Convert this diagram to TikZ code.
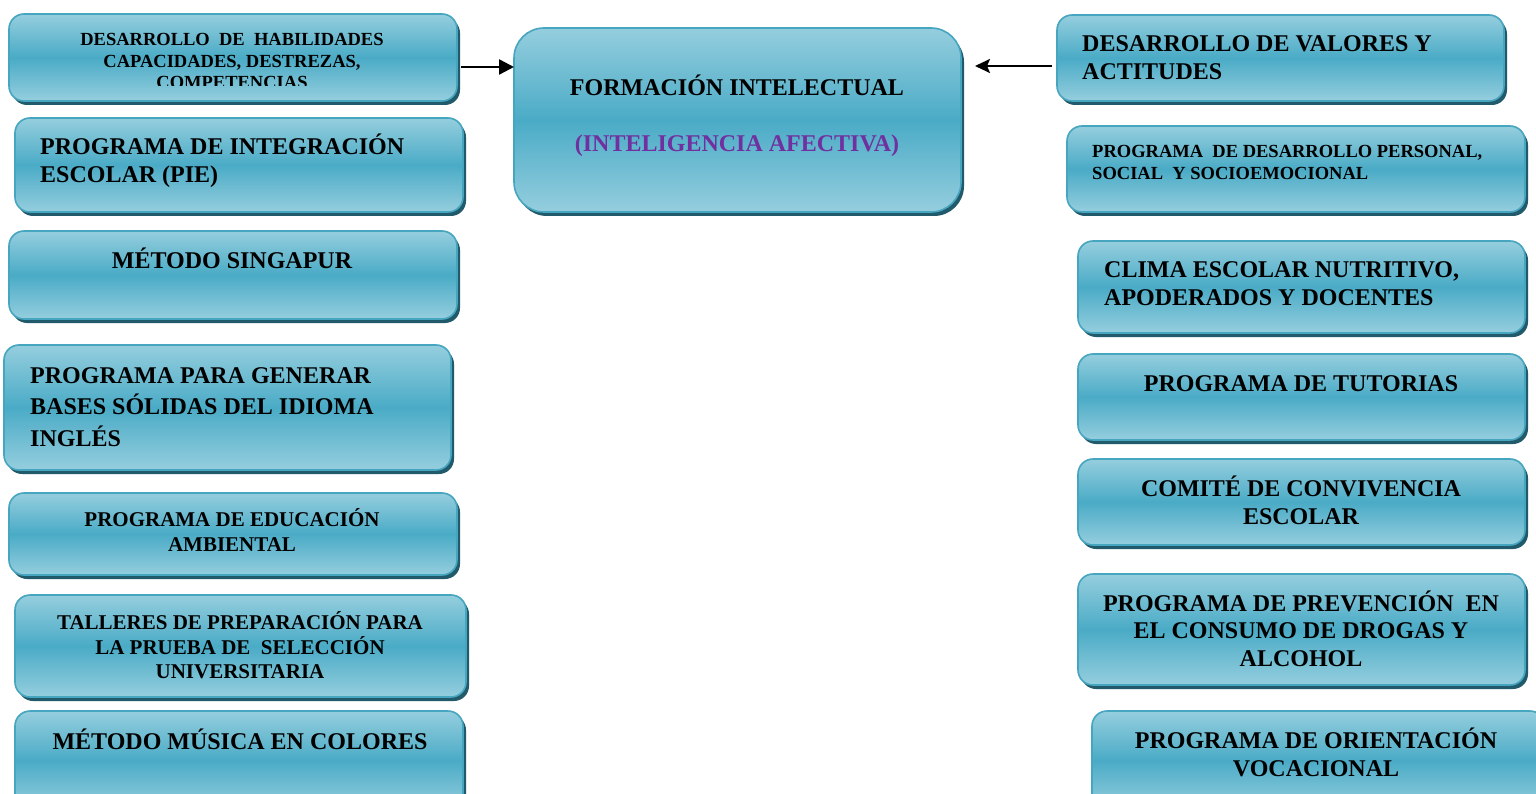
\documentclass[tikz,border=0pt]{standalone}
\usepackage{fontspec}
\setmainfont{Liberation Serif}
\usetikzlibrary{shadows,arrows.meta}
\definecolor{boxlight}{HTML}{95CEDE}
\definecolor{boxmid}{HTML}{4AABC6}
\definecolor{boxedge}{HTML}{46A5BF}
\definecolor{boxshadow}{HTML}{215A6A}
\definecolor{purp}{HTML}{7030A0}
\newcommand\tb[4]{{\fontsize{#2}{#3}\selectfont\begin{tabular}[t]{@{}#1@{}}#4\end{tabular}}}
\tikzset{
  boxbase/.style={draw=boxedge, line width=1.6pt, inner sep=0pt, outer sep=0pt,
    top color=boxlight, bottom color=boxlight, middle color=boxmid,
    drop shadow={shadow xshift=3pt, shadow yshift=-4pt, fill=boxshadow, opacity=1},
    anchor=north west, rounded corners=15pt},
  lbl/.style={inner sep=0pt, font=\bfseries, text=black},
  arr/.style={line width=2.3pt, -{Triangle[length=15pt,width=15pt]}},
  arrb/.style={line width=2.3pt, -{Stealth[length=15pt,width=14pt,inset=3pt]}}
}
\newcommand\boxfromto[5]{\node[boxbase, minimum width={#4-#2}, minimum height={#5-#3}] (#1) at (#2,#3) {};}
\begin{document}
\begin{tikzpicture}[x=1pt,y=-1pt]
\useasboundingbox[fill=white] (0,0) rectangle (1536,794);
% left column
\boxfromto{L1}{9}{14}{457}{101}
\boxfromto{L2}{15}{118}{463}{212}
\boxfromto{L3}{9}{231}{457}{319}
\boxfromto{L4}{4}{345}{451}{470}
\boxfromto{L5}{9}{493}{457}{575}
\boxfromto{L6}{15}{595}{466}{697}
\boxfromto{L7}{15}{711}{463}{810}
% center
\node[boxbase, rounded corners=30pt, minimum width=447, minimum height=184] (C) at (514,28) {};
% right column
\boxfromto{R1}{1057}{15}{1504}{101}
\boxfromto{R2}{1067}{126}{1525}{212}
\boxfromto{R3}{1078}{241}{1525}{333}
\boxfromto{R4}{1078}{354}{1525}{440}
\boxfromto{R5}{1078}{459}{1525}{545}
\boxfromto{R6}{1078}{574}{1525}{685}
\boxfromto{R7}{1092}{711}{1545}{810}
% texts
\begin{scope}
\clip (9,14) rectangle (457,86);
\node[lbl, anchor=base] (tL1) at (232,46) {\tb{c}{18.5}{21.5}{DESARROLLO~ DE~ HABILIDADES\\CAPACIDADES, DESTREZAS,\\COMPETENCIAS}};
\end{scope}
\node[lbl, anchor=base west] (tL2) at (40,155) {\tb{l}{24}{28}{PROGRAMA DE INTEGRACIÓN\\ESCOLAR (PIE)}};
\node[lbl, anchor=base] (tL3) at (232,269) {\tb{c}{24}{28}{MÉTODO SINGAPUR}};
\node[lbl, anchor=base west] (tL4) at (30,383) {\tb{l}{24}{31.5}{PROGRAMA PARA GENERAR\\BASES SÓLIDAS DEL IDIOMA\\INGLÉS}};
\node[lbl, anchor=base] (tL5) at (232,526) {\tb{c}{21}{25}{PROGRAMA DE EDUCACIÓN\\AMBIENTAL}};
\node[lbl, anchor=base] (tL6) at (240,629) {\tb{c}{21}{24}{TALLERES DE PREPARACIÓN PARA\\LA PRUEBA DE~ SELECCIÓN\\UNIVERSITARIA}};
\node[lbl, anchor=base] (tL7) at (240,749) {\tb{c}{24}{28}{MÉTODO MÚSICA EN COLORES}};
\node[lbl, anchor=base] (tC) at (737,96) {\tb{c}{24}{56}{FORMACIÓN INTELECTUAL\\\textcolor{purp}{(INTELIGENCIA AFECTIVA)}}};
\node[lbl, anchor=base west] (tR1) at (1082,52) {\tb{l}{24}{28}{DESARROLLO DE VALORES Y\\ACTITUDES}};
\node[lbl, anchor=base west] (tR2) at (1092,158) {\tb{l}{18.5}{21.5}{PROGRAMA~ DE DESARROLLO PERSONAL,\\SOCIAL~ Y SOCIOEMOCIONAL}};
\node[lbl, anchor=base west] (tR3) at (1104,278) {\tb{l}{24}{28}{CLIMA ESCOLAR NUTRITIVO,\\APODERADOS Y DOCENTES}};
\node[lbl, anchor=base] (tR4) at (1301,391) {\tb{c}{24}{28}{PROGRAMA DE TUTORIAS}};
\node[lbl, anchor=base] (tR5) at (1301,496) {\tb{c}{24}{28}{COMITÉ DE CONVIVENCIA\\ESCOLAR}};
\node[lbl, anchor=base] (tR6) at (1301,611) {\tb{c}{24}{27.5}{PROGRAMA DE PREVENCIÓN~ EN\\EL CONSUMO DE DROGAS Y\\ALCOHOL}};
\node[lbl, anchor=base] (tR7) at (1316,748) {\tb{c}{24}{28}{PROGRAMA DE ORIENTACIÓN\\VOCACIONAL}};
% arrows
\coordinate (aL) at (0,67);
\coordinate (aR) at (0,66);
\draw[arr] ([xshift=4pt]L1.east |- aL) -- (C.west |- aL);
\draw[arrb] ([xshift=-5pt]R1.west |- aR) -- ([xshift=14pt]C.east |- aR);
\end{tikzpicture}
\end{document}
